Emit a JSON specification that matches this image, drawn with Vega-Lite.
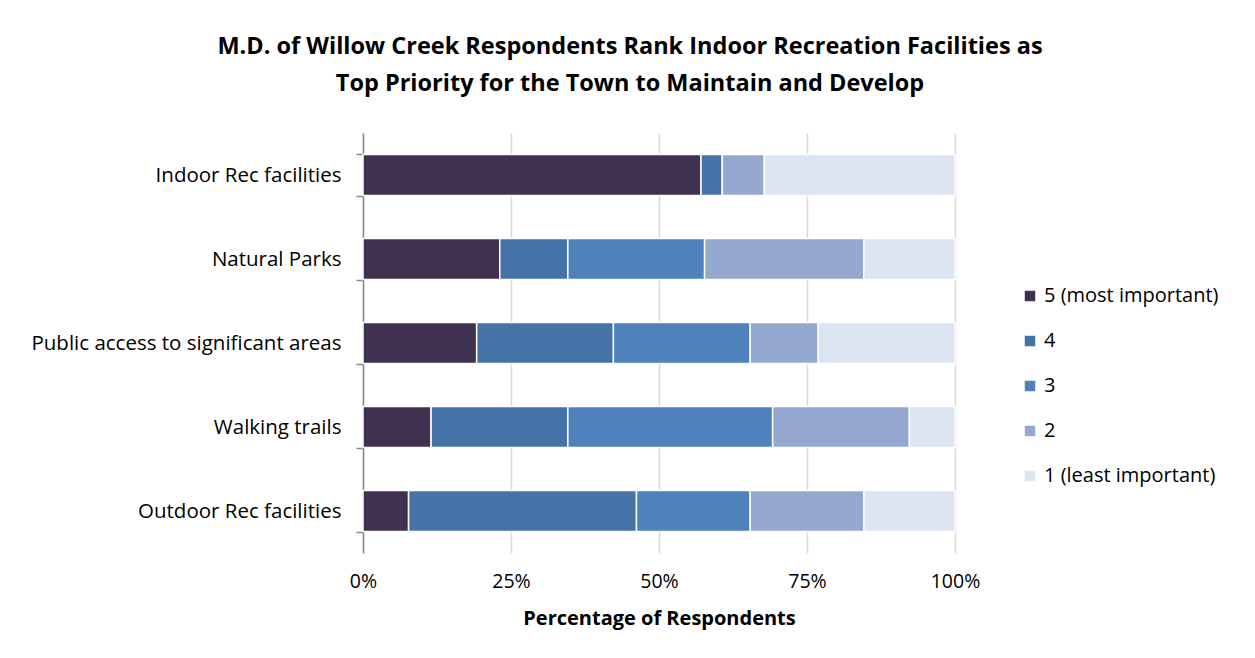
{
  "$schema": "https://vega.github.io/schema/vega-lite/v6.json",
  "width": 592,
  "height": 420,
  "autosize": {"type": "none"},
  "padding": {"left": 363, "top": 133, "right": 300, "bottom": 105},
  "background": "white",
  "title": {
    "text": ["M.D. of Willow Creek Respondents  Rank Indoor Recreation Facilities as", "Top Priority for the Town to Maintain and Develop"],
    "font": "Open Sans",
    "fontSize": 23.5,
    "fontWeight": "bold",
    "color": "#000000",
    "lineHeight": 37,
    "anchor": "middle",
    "dx": -29,
    "offset": 28
  },
  "data": {
    "values": [
      {"facility": "Indoor Rec facilities", "rating": "5 (most important)", "rank": 5, "pct": 57.1},
      {"facility": "Indoor Rec facilities", "rating": "4", "rank": 4, "pct": 3.6},
      {"facility": "Indoor Rec facilities", "rating": "3", "rank": 3, "pct": 0},
      {"facility": "Indoor Rec facilities", "rating": "2", "rank": 2, "pct": 7.1},
      {"facility": "Indoor Rec facilities", "rating": "1 (least important)", "rank": 1, "pct": 32.2},
      {"facility": "Natural Parks", "rating": "5 (most important)", "rank": 5, "pct": 23.1},
      {"facility": "Natural Parks", "rating": "4", "rank": 4, "pct": 11.5},
      {"facility": "Natural Parks", "rating": "3", "rank": 3, "pct": 23.1},
      {"facility": "Natural Parks", "rating": "2", "rank": 2, "pct": 26.9},
      {"facility": "Natural Parks", "rating": "1 (least important)", "rank": 1, "pct": 15.4},
      {"facility": "Public access to significant areas", "rating": "5 (most important)", "rank": 5, "pct": 19.2},
      {"facility": "Public access to significant areas", "rating": "4", "rank": 4, "pct": 23.1},
      {"facility": "Public access to significant areas", "rating": "3", "rank": 3, "pct": 23.1},
      {"facility": "Public access to significant areas", "rating": "2", "rank": 2, "pct": 11.5},
      {"facility": "Public access to significant areas", "rating": "1 (least important)", "rank": 1, "pct": 23.1},
      {"facility": "Walking trails", "rating": "5 (most important)", "rank": 5, "pct": 11.5},
      {"facility": "Walking trails", "rating": "4", "rank": 4, "pct": 23.1},
      {"facility": "Walking trails", "rating": "3", "rank": 3, "pct": 34.6},
      {"facility": "Walking trails", "rating": "2", "rank": 2, "pct": 23.1},
      {"facility": "Walking trails", "rating": "1 (least important)", "rank": 1, "pct": 7.7},
      {"facility": "Outdoor Rec facilities", "rating": "5 (most important)", "rank": 5, "pct": 7.7},
      {"facility": "Outdoor Rec facilities", "rating": "4", "rank": 4, "pct": 38.5},
      {"facility": "Outdoor Rec facilities", "rating": "3", "rank": 3, "pct": 19.2},
      {"facility": "Outdoor Rec facilities", "rating": "2", "rank": 2, "pct": 19.2},
      {"facility": "Outdoor Rec facilities", "rating": "1 (least important)", "rank": 1, "pct": 15.4}
    ]
  },
  "mark": {"type": "bar", "stroke": "white", "strokeWidth": 1.5},
  "encoding": {
    "y": {
      "field": "facility",
      "type": "nominal",
      "sort": ["Indoor Rec facilities", "Natural Parks", "Public access to significant areas", "Walking trails", "Outdoor Rec facilities"],
      "scale": {"paddingInner": 0.51, "paddingOuter": 0.255},
      "axis": {
        "title": null,
        "tickBand": "extent",
        "domainColor": "#868686",
        "domainWidth": 1.5,
        "tickColor": "#868686",
        "tickWidth": 1.5,
        "tickSize": 7,
        "labelFont": "Open Sans",
        "labelFontSize": 20.5,
        "labelColor": "#000000",
        "labelPadding": 15,
        "labelLimit": 400
      }
    },
    "x": {
      "field": "pct",
      "type": "quantitative",
      "stack": "normalize",
      "scale": {"domain": [0, 1]},
      "axis": {
        "title": "Percentage of Respondents",
        "format": ".0%",
        "values": [0, 0.25, 0.5, 0.75, 1],
        "domain": false,
        "ticks": false,
        "grid": true,
        "gridColor": "#d9d9d9",
        "gridWidth": 1.5,
        "labelFont": "Open Sans",
        "labelFontSize": 19.5,
        "labelColor": "#000000",
        "labelPadding": 19,
        "labelFlush": false,
        "titleFont": "Open Sans",
        "titleFontSize": 20,
        "titleFontWeight": "bold",
        "titleColor": "#000000",
        "titlePadding": 18
      }
    },
    "color": {
      "field": "rating",
      "type": "nominal",
      "scale": {
        "domain": ["5 (most important)", "4", "3", "2", "1 (least important)"],
        "range": ["#403151", "#4573A7", "#4F81BD", "#95A9D0", "#DBE4F0"]
      },
      "legend": {
        "title": null,
        "orient": "none",
        "legendX": 657,
        "legendY": 153,
        "symbolType": "square",
        "symbolSize": 110,
        "symbolStrokeWidth": 0,
        "labelFont": "Open Sans",
        "labelFontSize": 20,
        "labelColor": "#000000",
        "labelLimit": 300,
        "rowPadding": 25,
        "labelOffset": 4
      }
    },
    "order": {"field": "rank", "sort": "descending"}
  },
  "config": {"view": {"stroke": null}}
}
